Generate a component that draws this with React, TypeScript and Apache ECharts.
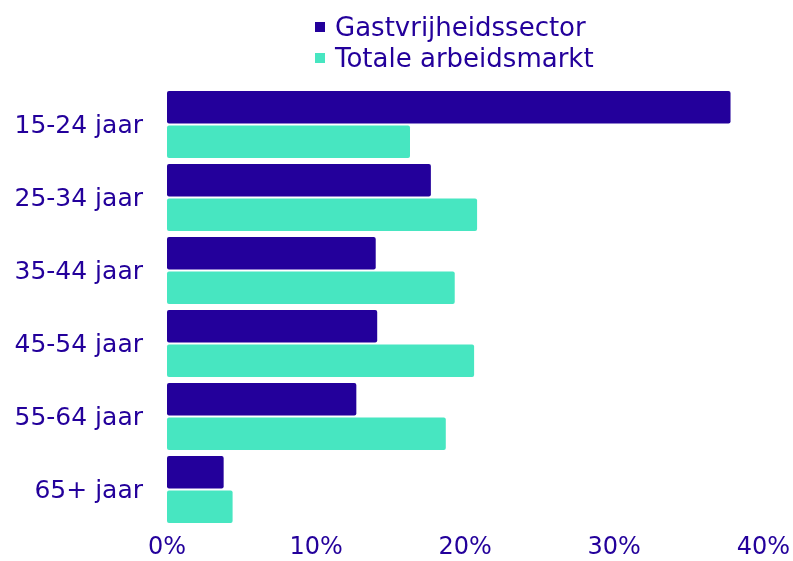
import React, { useEffect, useRef } from "react";
import * as echarts from "echarts";

const categories = ["15-24 jaar", "25-34 jaar", "35-44 jaar", "45-54 jaar", "55-64 jaar", "65+ jaar"];
const gastvrijheid = [37.8, 17.7, 14.0, 14.1, 12.7, 3.8];
const totaal = [16.3, 20.8, 19.3, 20.6, 18.7, 4.4];
const seriesNames = ["Gastvrijheidssector", "Totale arbeidsmarkt"];

const DARK = "#23009B";
const TEAL = "#47E6C1";
const TEXT = "#23009B";
const FONT = "DejaVu Sans";

export default function App() {
  const ref = useRef<HTMLDivElement>(null);
  useEffect(() => {
    const chart = echarts.init(ref.current!, undefined, { renderer: "svg" });
    chart.setOption({
      animation: false,
      textStyle: { fontFamily: FONT },
      legend: {
        orient: "vertical",
        left: 310,
        top: 9,
        icon: "rect",
        itemWidth: 10,
        itemHeight: 10,
        itemGap: 5,
        textStyle: { color: TEXT, fontSize: 26, lineHeight: 26, fontFamily: FONT, padding: [0, 0, 0, 5] },
        data: seriesNames,
      },
      grid: { left: 167, right: 28, top: 88, bottom: 35, containLabel: false },
      xAxis: {
        type: "value",
        min: 0,
        max: 40,
        interval: 10,
        axisLine: { show: false },
        axisTick: { show: false },
        splitLine: { show: false },
        axisLabel: { formatter: "{value}%", color: TEXT, fontSize: 24, lineHeight: 24, fontFamily: FONT, margin: 8 },
      },
      yAxis: {
        type: "category",
        inverse: true,
        data: categories,
        axisLine: { show: false },
        axisTick: { show: false },
        axisLabel: { color: TEXT, fontSize: 25, fontFamily: FONT, margin: 24 },
      },
      series: [
        {
          name: seriesNames[0],
          type: "bar",
          data: gastvrijheid,
          barGap: "6%",
          barCategoryGap: "8%",
          itemStyle: { color: DARK, borderRadius: 2 },
        },
        {
          name: seriesNames[1],
          type: "bar",
          data: totaal,
          barGap: "6%",
          barCategoryGap: "8%",
          itemStyle: { color: TEAL, borderRadius: 2 },
        },
      ],
    });
    return () => chart.dispose();
  }, []);
  return <div ref={ref} style={{ position: "fixed", left: 0, top: 0, width: 793, height: 561 }} />;
}
